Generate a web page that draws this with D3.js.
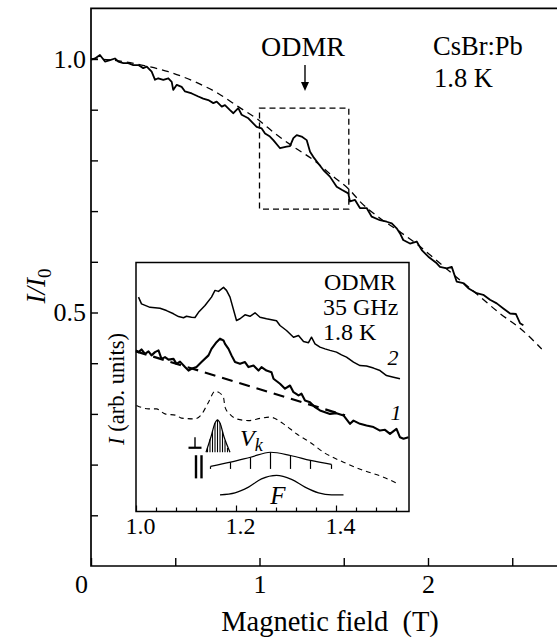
<!DOCTYPE html>
<html>
<head>
<meta charset="utf-8">
<script src="https://cdn.jsdelivr.net/npm/d3@7"></script>
<style>
  body { margin: 0; background: #fff; }
  text { font-family: "Liberation Serif", "Times New Roman", serif; }
</style>
</head>
<body>
<script>
// ---- main panel: I/I0 against magnetic field (T) ----
const mainTrace = [
  [0.000,0.999],[0.024,1.001],[0.053,1.008],[0.083,0.995],[0.113,0.998],[0.142,1.001],[0.162,0.995],
  [0.192,0.992],[0.221,0.992],[0.251,0.988],[0.281,0.988],[0.310,0.982],[0.331,0.985],[0.360,0.975],
  [0.380,0.959],[0.399,0.962],[0.429,0.959],[0.459,0.962],[0.479,0.955],[0.488,0.939],[0.509,0.949],
  [0.538,0.945],[0.558,0.936],[0.598,0.932],[0.637,0.926],[0.666,0.922],[0.696,0.919],[0.726,0.913],
  [0.746,0.916],[0.776,0.906],[0.795,0.909],[0.825,0.899],[0.845,0.893],[0.874,0.903],[0.894,0.890],
  [0.934,0.883],[0.954,0.876],[0.983,0.866],[1.013,0.863],[1.033,0.853],[1.062,0.847],[1.082,0.840],
  [1.122,0.824],[1.161,0.827],[1.181,0.828],[1.201,0.844],[1.221,0.850],[1.250,0.847],[1.280,0.840],
  [1.300,0.817],[1.319,0.807],[1.349,0.794],[1.379,0.781],[1.418,0.768],[1.458,0.748],[1.488,0.742],
  [1.527,0.735],[1.537,0.719],[1.567,0.722],[1.596,0.706],[1.636,0.706],[1.666,0.689],[1.715,0.682],
  [1.755,0.679],[1.785,0.676],[1.814,0.666],[1.834,0.656],[1.853,0.643],[1.893,0.636],[1.933,0.640],
  [1.963,0.623],[2.002,0.610],[2.052,0.597],[2.071,0.590],[2.111,0.587],[2.141,0.590],[2.170,0.561],
  [2.209,0.558],[2.239,0.548],[2.289,0.538],[2.328,0.535],[2.368,0.525],[2.408,0.518],[2.447,0.508],
  [2.487,0.498],[2.522,0.497],[2.546,0.479],[2.566,0.475]
];
const mainFit = [
  [0.000,1.000],[0.150,0.997],[0.300,0.988],[0.459,0.975],[0.617,0.955],[0.755,0.932],[0.874,0.906],
  [0.993,0.880],[1.092,0.853],[1.201,0.827],[1.319,0.801],[1.438,0.768],[1.537,0.741],[1.596,0.719],
  [1.715,0.686],[1.834,0.659],[1.953,0.630],[2.071,0.597],[2.190,0.564],[2.309,0.531],[2.427,0.498],
  [2.546,0.469],[2.675,0.428]
];
const boxField = [1.0, 1.53];
const boxRatio = [0.704, 0.903];
const arrowField = 1.27;
const arrowRatio = [0.988, 0.937];
const mainXTicks = [0, 0.5, 1, 1.5, 2, 2.5];
const mainXLabels = [0, 1, 2];
const mainYTicks = [0.1, 0.2, 0.3, 0.4, 0.5, 0.6, 0.7, 0.8, 0.9, 1.0];
const mainYLabels = [0.5, 1.0];

// ---- inset: ODMR spectra (arb. units) ----
const curve2 = [
  [1.005,86.1],[1.011,83.4],[1.028,82.0],[1.048,81.6],[1.061,80.7],[1.075,79.4],[1.085,78.3],[1.095,77.8],
  [1.101,78.4],[1.111,78.0],[1.118,77.9],[1.125,80.0],[1.138,82.7],[1.151,86.1],[1.158,88.8],[1.165,88.4],
  [1.175,90.0],[1.181,88.8],[1.188,86.1],[1.201,76.7],[1.208,77.4],[1.218,79.0],[1.228,78.4],[1.238,79.8],
  [1.248,78.0],[1.261,77.4],[1.281,76.6],[1.288,74.7],[1.301,72.7],[1.315,70.0],[1.325,70.7],[1.335,68.3],
  [1.345,67.8],[1.351,70.0],[1.358,67.3],[1.368,66.0],[1.378,65.3],[1.388,64.7],[1.401,64.0],[1.411,62.9],
  [1.421,62.0],[1.435,60.0],[1.448,58.6],[1.461,58.4],[1.475,57.6],[1.488,56.6],[1.501,54.6],[1.515,53.9],
  [1.528,53.3]
];
const curve1 = [
  [1.000,64.7],[1.005,64.0],[1.011,65.1],[1.018,63.3],[1.025,64.3],[1.031,62.7],[1.038,64.0],[1.045,64.7],
  [1.051,61.3],[1.058,62.0],[1.065,61.0],[1.075,61.3],[1.081,59.3],[1.088,60.2],[1.098,58.0],[1.105,56.6],
  [1.111,57.3],[1.121,58.0],[1.131,60.0],[1.145,62.7],[1.151,65.3],[1.161,68.0],[1.168,69.4],[1.175,68.7],
  [1.178,67.3],[1.185,65.3],[1.191,62.7],[1.198,60.0],[1.208,59.3],[1.218,60.0],[1.225,58.0],[1.235,58.6],
  [1.245,56.6],[1.251,58.0],[1.261,56.6],[1.271,55.9],[1.275,53.3],[1.288,51.3],[1.298,49.3],[1.308,50.6],
  [1.315,47.9],[1.325,46.6],[1.331,47.3],[1.338,44.6],[1.348,43.9],[1.358,41.9],[1.368,40.6],[1.378,39.9],
  [1.388,39.2],[1.401,39.5],[1.415,38.6],[1.428,35.2],[1.435,36.5],[1.448,35.2],[1.461,34.5],[1.475,33.9],
  [1.488,32.5],[1.498,32.8],[1.508,31.2],[1.521,33.2],[1.528,29.8],[1.535,29.2],[1.545,29.8]
];
const baseline1 = [[1.0,64.3],[1.418,38.6]];
const simCurve = [
  [1.001,42.6],[1.025,41.2],[1.041,41.2],[1.058,39.2],[1.081,38.6],[1.091,37.5],[1.118,37.2],[1.131,39.0],
  [1.145,43.9],[1.158,48.3],[1.165,47.9],[1.175,45.8],[1.178,41.9],[1.188,39.0],[1.201,37.2],[1.225,36.5],
  [1.251,37.5],[1.268,37.9],[1.295,35.2],[1.321,31.2],[1.348,27.8],[1.375,23.8],[1.415,19.8],[1.455,16.5],
  [1.495,13.8],[1.521,11.4]
];
// hatched self-trapped-exciton line
const stePeak = [[1.140,23.8],[1.150,30.0],[1.158,35.5],[1.163,36.8],[1.168,35.5],[1.176,30.0],[1.188,23.8]];
const steHatch = [[1.143,25.5],[1.148,29.0],[1.153,32.5],[1.158,35.5],[1.163,36.8],[1.168,35.5],[1.173,32.0],[1.178,28.5],[1.183,25.5]];
const steBase = 23.8;
// Vk stick spectrum
const vkSticks = [[1.149,18.1],[1.189,19.8],[1.229,21.8],[1.269,23.8],[1.309,22.5],[1.349,20.5],[1.391,18.9]];
const vkBase = 17.1;
// F centre band
const fBand = [[1.168,6.7],[1.198,7.5],[1.225,9.8],[1.251,13.1],[1.281,14.5],[1.311,12.9],[1.338,9.8],[1.365,7.5],[1.391,6.7],[1.415,6.7]];
// orientation symbols
const perpMark = {x:[1.105,1.131], xv:1.118, y:[25.6,29.8]};
const parMark = {x:[1.120,1.131], y:[13.3,22.6]};
const insetTicks = [1.0,1.04,1.08,1.12,1.16,1.2,1.24,1.28,1.32,1.36,1.4,1.44,1.48,1.52];
const insetLabels = [1.0, 1.2, 1.4];

const W = 557, H = 637;
const svg = d3.select("body").append("svg").attr("width", W).attr("height", H)
  .style("display", "block");

const x = d3.scaleLinear().domain([0, 2.8]).range([91, 91 + 2.8 * 168.5]);
const y = d3.scaleLinear().domain([0, 1.1]).range([566, 566 - 1.1 * 507]);

// frame
svg.append("path")
  .attr("d", `M${W},${y(1.1)}H${x(0)}V${y(0)}H${W}`)
  .attr("fill", "none").attr("stroke", "#000").attr("stroke-width", 1.7);

const xAxis = svg.append("g").attr("transform", `translate(0,${y(0)})`)
  .call(d3.axisBottom(x).tickValues(mainXTicks).tickSize(-8).tickSizeOuter(0).tickPadding(9)
    .tickFormat(d => mainXLabels.includes(d) ? d3.format("d")(d) : ""));
xAxis.attr("font-family", null).attr("font-size", null);
xAxis.select(".domain").remove();
xAxis.selectAll("line").attr("stroke-width", 1.4);
xAxis.selectAll("text").attr("font-size", 26).attr("fill", "#000")
  .attr("dx", d => d === 0 ? -10 : 0);

const yAxis = svg.append("g").attr("transform", `translate(${x(0)},0)`)
  .call(d3.axisLeft(y).tickValues(mainYTicks).tickSize(-7).tickSizeOuter(0).tickPadding(5)
    .tickFormat(d => mainYLabels.includes(d) ? d3.format(".1f")(d) : ""));
yAxis.attr("font-family", null).attr("font-size", null);
yAxis.select(".domain").remove();
yAxis.selectAll("line").attr("stroke-width", 1.4);
yAxis.selectAll("text").attr("font-size", 26).attr("fill", "#000");

const line = d3.line().x(d => x(d[0])).y(d => y(d[1]));

svg.append("path").datum(mainFit)
  .attr("d", line.curve(d3.curveMonotoneX))
  .attr("fill", "none").attr("stroke", "#000").attr("stroke-width", 1.3).attr("stroke-dasharray", "7,5");
svg.append("path").datum(mainTrace)
  .attr("d", line.curve(d3.curveLinear))
  .attr("fill", "none").attr("stroke", "#000").attr("stroke-width", 1.8).attr("stroke-linejoin", "round");

// dashed box around the ODMR feature
svg.append("rect")
  .attr("x", x(boxField[0])).attr("y", y(boxRatio[1]))
  .attr("width", x(boxField[1]) - x(boxField[0])).attr("height", y(boxRatio[0]) - y(boxRatio[1]))
  .attr("fill", "none").attr("stroke", "#000").attr("stroke-width", 1.3).attr("stroke-dasharray", "6,4");

// arrow
const ax = x(arrowField);
svg.append("line").attr("x1", ax).attr("x2", ax).attr("y1", y(arrowRatio[0])).attr("y2", y(arrowRatio[1]) - 4)
  .attr("stroke", "#000").attr("stroke-width", 1.4);
svg.append("path")
  .attr("d", `M${ax - 4},${y(arrowRatio[1]) - 9}L${ax},${y(arrowRatio[1])}L${ax + 4},${y(arrowRatio[1]) - 9}Z`)
  .attr("fill", "#000");

svg.append("text").attr("x", 303).attr("y", 56).attr("text-anchor", "middle").attr("font-size", 28).text("ODMR");
svg.append("text").attr("x", 433).attr("y", 55).attr("font-size", 26.5).text("CsBr:Pb");
svg.append("text").attr("x", 434).attr("y", 87).attr("font-size", 26.5).text("1.8 K");

// axis titles
svg.append("text").attr("x", 330).attr("y", 631).attr("text-anchor", "middle").attr("font-size", 28.5)
  .style("white-space", "pre").text("Magnetic field  (T)");
const yt = svg.append("text").attr("transform", "translate(45,286) rotate(-90)")
  .attr("text-anchor", "middle").attr("font-size", 27);
yt.append("tspan").attr("font-style", "italic").text("I/I");
yt.append("tspan").attr("font-size", 19).attr("dy", 6).text("0");

// ---- inset ----
const ix = d3.scaleLinear().domain([1.0, 1.546]).range([136, 409]);
const iy = d3.scaleLinear().domain([0, 100]).range([511.5, 262.5]);
const inset = svg.append("g");

inset.append("rect").attr("x", 136).attr("y", 262.5).attr("width", 273).attr("height", 249)
  .attr("fill", "#fff").attr("stroke", "#000").attr("stroke-width", 1.5);

const isMajor = d => insetLabels.some(v => Math.abs(v - d) < 1e-9);
const iAxis = inset.append("g").attr("transform", `translate(0,${iy(0)})`)
  .call(d3.axisBottom(ix).tickValues(insetTicks).tickSizeOuter(0).tickSize(-4).tickPadding(5)
    .tickFormat(d => isMajor(d) ? d3.format(".1f")(d) : ""));
iAxis.attr("font-family", null).attr("font-size", null);
iAxis.select(".domain").remove();
iAxis.selectAll(".tick line").attr("stroke-width", 1.2).attr("y2", d => isMajor(d) ? -6 : -4);
iAxis.selectAll("text").attr("font-size", 24).attr("fill", "#000").attr("dx", 4);

const iline = d3.line().x(d => ix(d[0])).y(d => iy(d[1]));
const ismooth = d3.line().x(d => ix(d[0])).y(d => iy(d[1])).curve(d3.curveMonotoneX);

inset.append("path").datum(curve2).attr("d", iline)
  .attr("fill", "none").attr("stroke", "#000").attr("stroke-width", 1.5).attr("stroke-linejoin", "round");
inset.append("path").datum(curve1).attr("d", iline)
  .attr("fill", "none").attr("stroke", "#000").attr("stroke-width", 2.1).attr("stroke-linejoin", "round");
inset.append("path").datum(baseline1).attr("d", iline)
  .attr("fill", "none").attr("stroke", "#000").attr("stroke-width", 2.2).attr("stroke-dasharray", "11,7");
inset.append("path").datum(simCurve).attr("d", ismooth)
  .attr("fill", "none").attr("stroke", "#000").attr("stroke-width", 1.1).attr("stroke-dasharray", "5,4");

// hatched peak
inset.append("path").datum(stePeak).attr("d", ismooth)
  .attr("fill", "none").attr("stroke", "#000").attr("stroke-width", 1.2);
inset.selectAll(".hatch").data(steHatch).join("line").attr("class", "hatch")
  .attr("x1", d => ix(d[0])).attr("x2", d => ix(d[0]))
  .attr("y1", iy(steBase)).attr("y2", d => iy(d[1]))
  .attr("stroke", "#000").attr("stroke-width", 1.1);

// Vk sticks and envelope
inset.append("path").datum(vkSticks).attr("d", ismooth)
  .attr("fill", "none").attr("stroke", "#000").attr("stroke-width", 1.2);
inset.selectAll(".stick").data(vkSticks).join("line").attr("class", "stick")
  .attr("x1", d => ix(d[0])).attr("x2", d => ix(d[0]))
  .attr("y1", iy(vkBase)).attr("y2", d => iy(d[1]))
  .attr("stroke", "#000").attr("stroke-width", 1.2);

// F band
inset.append("path").datum(fBand).attr("d", ismooth)
  .attr("fill", "none").attr("stroke", "#000").attr("stroke-width", 1.2);

// orientation symbols
inset.append("line").attr("x1", ix(perpMark.x[0])).attr("x2", ix(perpMark.x[1]))
  .attr("y1", iy(perpMark.y[0])).attr("y2", iy(perpMark.y[0])).attr("stroke", "#000").attr("stroke-width", 2.2);
inset.append("line").attr("x1", ix(perpMark.xv)).attr("x2", ix(perpMark.xv))
  .attr("y1", iy(perpMark.y[0])).attr("y2", iy(perpMark.y[1])).attr("stroke", "#000").attr("stroke-width", 1.4);
inset.selectAll(".par").data(parMark.x).join("line").attr("class", "par")
  .attr("x1", d => ix(d)).attr("x2", d => ix(d))
  .attr("y1", iy(parMark.y[0])).attr("y2", iy(parMark.y[1])).attr("stroke", "#000").attr("stroke-width", 2.4);

// inset labels
inset.append("text").attr("x", 324).attr("y", 290).attr("font-size", 24).text("ODMR");
inset.append("text").attr("x", 323).attr("y", 315).attr("font-size", 24).text("35 GHz");
inset.append("text").attr("x", 323).attr("y", 340).attr("font-size", 24).text("1.8 K");
inset.append("text").attr("x", 393).attr("y", 365).attr("text-anchor", "middle").attr("font-size", 22)
  .attr("font-style", "italic").text("2");
inset.append("text").attr("x", 396).attr("y", 420).attr("text-anchor", "middle").attr("font-size", 22)
  .attr("font-style", "italic").text("1");
const vk = inset.append("text").attr("x", 240).attr("y", 446).attr("font-size", 24).attr("font-style", "italic");
vk.append("tspan").text("V");
vk.append("tspan").attr("font-size", 18).attr("dy", 5).text("k");
inset.append("text").attr("x", 278).attr("y", 504).attr("text-anchor", "middle").attr("font-size", 25)
  .attr("font-style", "italic").text("F");

const il = svg.append("text").attr("transform", "translate(124,389) rotate(-90)")
  .attr("text-anchor", "middle").attr("font-size", 22.5);
il.append("tspan").attr("font-style", "italic").text("I");
il.append("tspan").text(" (arb. units)");
</script>
</body>
</html>
